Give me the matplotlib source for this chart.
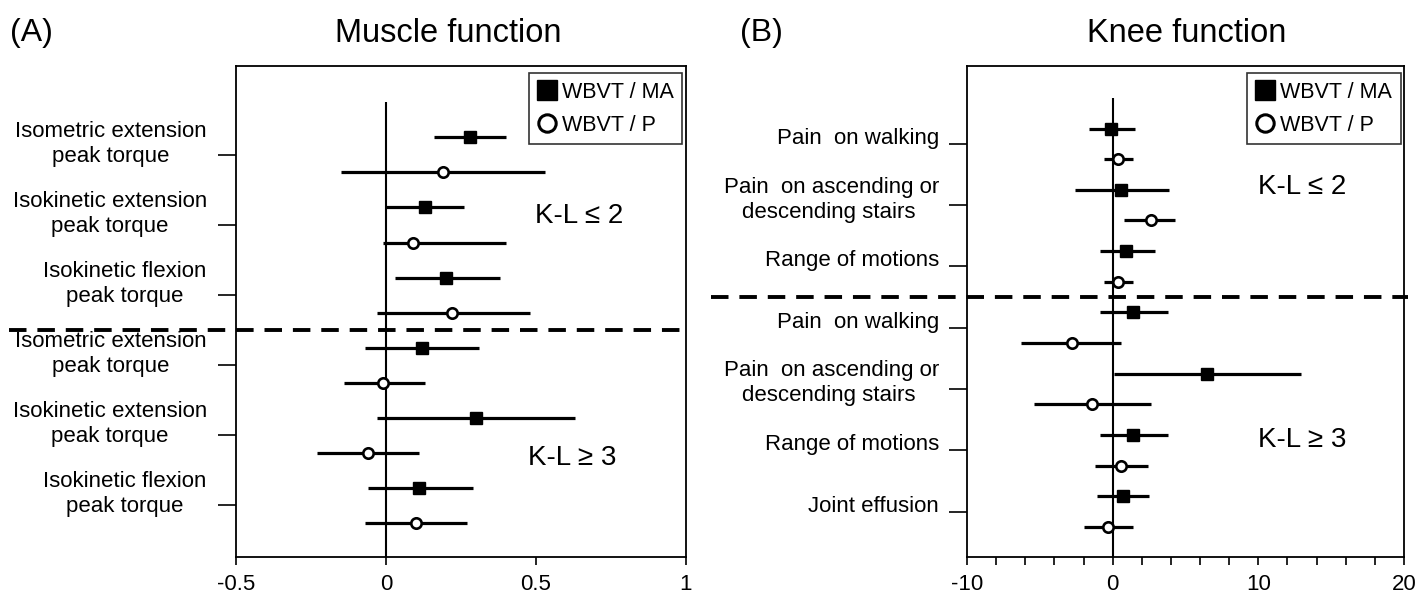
import matplotlib
matplotlib.use("Agg")
import matplotlib.pyplot as plt
import matplotlib.transforms as mtransforms
from matplotlib.lines import Line2D
from matplotlib.ticker import MultipleLocator

plt.rcParams['font.family'] = ['Liberation Sans', 'DejaVu Sans']
plt.rcParams['axes.unicode_minus'] = False

# (A) muscle function: first 3 rows K-L <= 2, last 3 rows K-L >= 3
muscle_labels = ["Isometric extension\npeak torque",
                 "Isokinetic extension\npeak torque",
                 "Isokinetic flexion\npeak torque"] * 2
muscle_ma = [0.28, 0.13, 0.20, 0.12, 0.30, 0.11]
muscle_ma_lo = [0.16, 0.00, 0.03, -0.07, -0.03, -0.06]
muscle_ma_hi = [0.40, 0.26, 0.38, 0.31, 0.63, 0.29]
muscle_p = [0.19, 0.09, 0.22, -0.01, -0.06, 0.10]
muscle_p_lo = [-0.15, -0.01, -0.03, -0.14, -0.23, -0.07]
muscle_p_hi = [0.53, 0.40, 0.48, 0.13, 0.11, 0.27]

# (B) knee function: first 3 rows K-L <= 2, last 4 rows K-L >= 3
knee_labels = ["Pain  on walking", "Pain  on ascending or\ndescending stairs ", "Range of motions",
               "Pain  on walking", "Pain  on ascending or\ndescending stairs ", "Range of motions",
               "Joint effusion"]
knee_ma = [-0.1, 0.6, 0.9, 1.4, 6.5, 1.4, 0.7]
knee_ma_lo = [-1.6, -2.6, -0.9, -0.9, 0.1, -0.9, -1.1]
knee_ma_hi = [1.5, 3.9, 2.9, 3.8, 12.9, 3.8, 2.5]
knee_p = [0.4, 2.6, 0.4, -2.8, -1.4, 0.6, -0.3]
knee_p_lo = [-0.6, 0.8, -0.6, -6.3, -5.4, -1.2, -2.0]
knee_p_hi = [1.4, 4.3, 1.4, 0.6, 2.6, 2.4, 1.4]

legend_labels = ["WBVT / MA", "WBVT / P"]


def forest(ax, labels, ma, ma_lo, ma_hi, p, p_lo, p_hi, n_top, label_dx, label_dy):
    n = len(labels)
    y_ma = [2 * i for i in range(n)]
    y_p = [2 * i + 1 for i in range(n)]
    ax.hlines(y_ma, ma_lo, ma_hi, color="black", lw=2.3, zorder=2)
    ax.hlines(y_p, p_lo, p_hi, color="black", lw=2.3, zorder=2)
    ax.plot(ma, y_ma, ls="none", marker="s", ms=9, color="black", zorder=3)
    ax.plot(p, y_p, ls="none", marker="o", ms=7.5, mfc="white", mec="black", mew=1.9, zorder=3)
    ax.vlines(0, -1, 2 * n, color="black", lw=1.5, zorder=1)
    ax.set_ylim(2 * n - 0.02, -2.04)

    # y ticks between each pair, labels drawn as text slightly above the tick
    ticks = [2 * i + 0.5 for i in range(n)]
    ax.set_yticks(ticks)
    ax.set_yticklabels([])
    ax.tick_params(axis="y", direction="out", length=13, width=1.2)
    trans = mtransforms.blended_transform_factory(ax.transAxes, ax.transData)
    trans = mtransforms.offset_copy(trans, fig=ax.figure, x=label_dx, y=label_dy, units="points")
    for t, lab in zip(ticks, labels):
        ax.text(0, t, lab, transform=trans, ha="right", va="center",
                multialignment="center", fontsize=16, linespacing=1.25)

    # y of the dashed separator between K-L groups
    return 2 * n_top - 0.5


fig = plt.figure(figsize=(14.28, 5.93), dpi=100)
ax1 = fig.add_axes([236 / 1428, 1 - 557 / 593, 450 / 1428, 491 / 593])
ax2 = fig.add_axes([967 / 1428, 1 - 557 / 593, 437 / 1428, 491 / 593])

ysep1 = forest(ax1, muscle_labels, muscle_ma, muscle_ma_lo, muscle_ma_hi,
               muscle_p, muscle_p_lo, muscle_p_hi, 3, -21, 8)
ysep2 = forest(ax2, knee_labels, knee_ma, knee_ma_lo, knee_ma_hi,
               knee_p, knee_p_lo, knee_p_hi, 3, -20, 4)

ax1.set_xlim(-0.5, 1)
ax1.set_xticks([-0.5, 0, 0.5, 1])
ax1.set_xticklabels(["-0.5", "0", "0.5", "1"])
ax2.set_xlim(-10, 20)
ax2.set_xticks([-10, 0, 10, 20])
ax2.set_xticklabels(["-10", "0", "10", "20"])
ax2.xaxis.set_minor_locator(MultipleLocator(2))

for ax in (ax1, ax2):
    ax.tick_params(axis="x", which="both", direction="out", length=6, width=1.2, labelsize=16, pad=6)
    for s in ax.spines.values():
        s.set_linewidth(1.3)

# dashed lines reach into the label area
for ax, ysep, x0 in ((ax1, ysep1, -0.505), (ax2, ysep2, -0.585)):
    tr = mtransforms.blended_transform_factory(ax.transAxes, ax.transData)
    ax.plot([x0, 1.01], [ysep, ysep], transform=tr, color="black", lw=2.8,
            dashes=(4.5, 2.8), clip_on=False, zorder=4)

tr1 = mtransforms.blended_transform_factory(ax1.transAxes, ax1.transData)
tr2 = mtransforms.blended_transform_factory(ax2.transAxes, ax2.transData)
ax1.text(0.665, 2.25, "K-L \u2264 2", fontsize=20, ha="left", va="center", transform=tr1)
ax1.text(0.650, 9.15, "K-L \u2265 3", fontsize=20, ha="left", va="center", transform=tr1)
ax2.text(0.665, 1.9, "K-L \u2264 2", fontsize=20, ha="left", va="center", transform=tr2)
ax2.text(0.665, 10.15, "K-L \u2265 3", fontsize=20, ha="left", va="center", transform=tr2)

handles = [Line2D([], [], ls="none", marker="s", ms=14, color="black"),
           Line2D([], [], ls="none", marker="o", ms=12.5, mfc="white", mec="black", mew=2.2)]
for ax in (ax1, ax2):
    leg = ax.legend(handles, legend_labels, loc="upper right",
                    bbox_to_anchor=(0.992, 0.985), fontsize=15.5, frameon=True, fancybox=False,
                    handlelength=0.9, handletextpad=0.25, borderpad=0.4, labelspacing=0.55,
                    borderaxespad=0)
    leg.get_frame().set_edgecolor("black")
    leg.get_frame().set_linewidth(1.2)

fig.text(10 / 1428, 1 - 33 / 593, "(A)", fontsize=23, ha="left", va="center")
fig.text(448 / 1428, 1 - 33 / 593, "Muscle function", fontsize=23.5, ha="center", va="center")
fig.text(740 / 1428, 1 - 33 / 593, "(B)", fontsize=23, ha="left", va="center")
fig.text(1187 / 1428, 1 - 33 / 593, "Knee function", fontsize=23.5, ha="center", va="center")

fig.savefig("out.png", dpi=100)
